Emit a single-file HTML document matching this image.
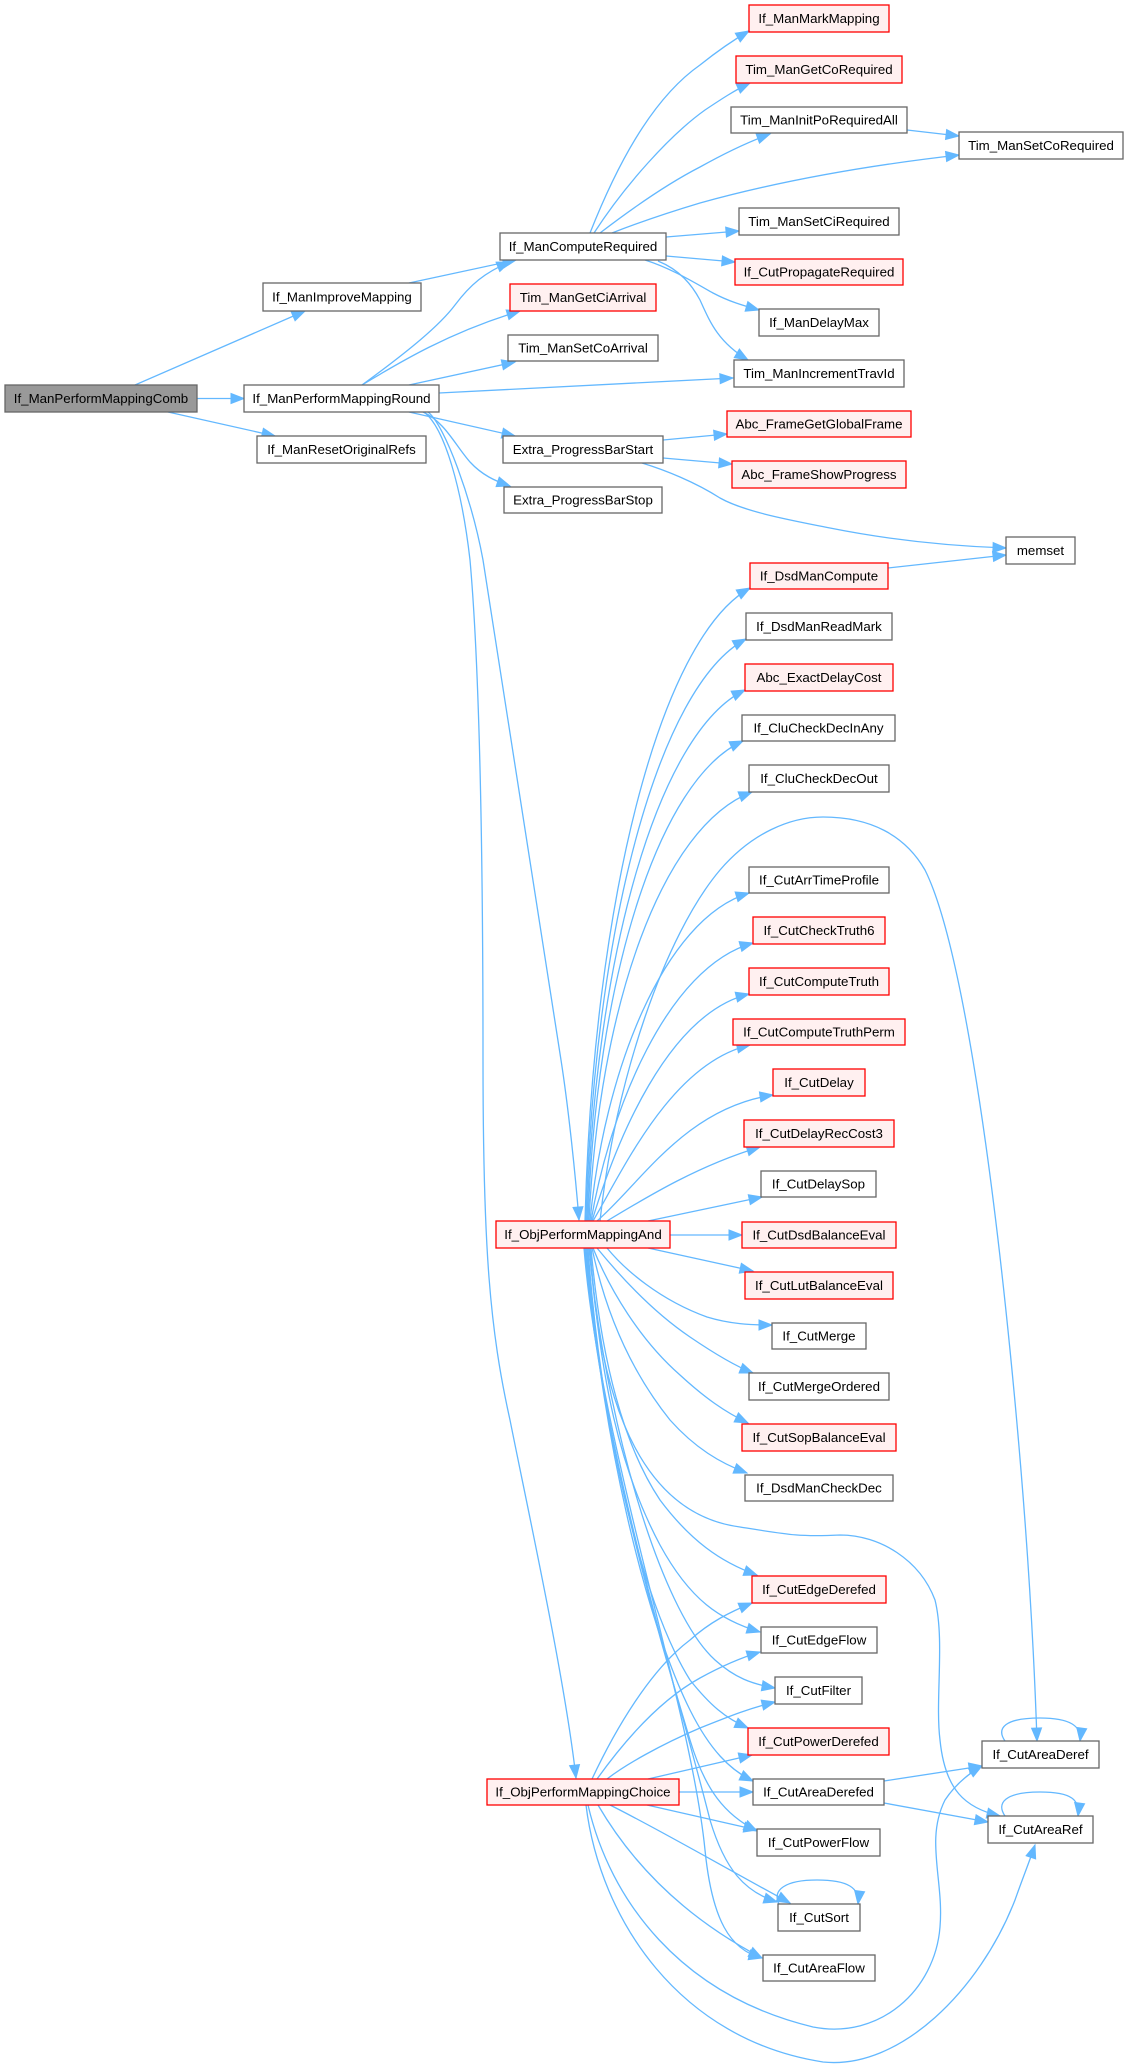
<!DOCTYPE html>
<html><head><meta charset="utf-8"><style>
html,body{margin:0;padding:0;background:#fff;}
svg{display:block;}
text{font-family:"Liberation Sans",Arial,sans-serif;font-size:13.3px;fill:#000;text-anchor:middle;}
.e{fill:none;stroke:#63b8ff;stroke-width:1.3;marker-end:url(#a);}
.n{fill:#fff;stroke:#666;stroke-width:1.3;}
.r{fill:#fff0f0;stroke:#f00;stroke-width:1.3;}
.g{fill:#999;stroke:#666;stroke-width:1.3;}
</style></head><body>
<svg width="1128" height="2067" viewBox="0 0 1128 2067" xmlns="http://www.w3.org/2000/svg">
<defs><marker id="a" markerUnits="userSpaceOnUse" markerWidth="14" markerHeight="11" refX="13" refY="5" orient="auto" overflow="visible"><path d="M0,0 L13,5 L0,10 z" fill="#63b8ff" stroke="#63b8ff" stroke-width="1"/></marker></defs>
<g>
<path class="e" d="M135,385 L305,311"/>
<path class="e" d="M197,398.5 L244,398.5"/>
<path class="e" d="M168,412 L275,436"/>
<path class="e" d="M409,283 L516,260"/>
<path class="e" d="M362,385 C410,350 440,325 455,305 C470,285 485,272 510,262"/>
<path class="e" d="M362,385 C400,362 450,332 520,311"/>
<path class="e" d="M409,385 L515,362"/>
<path class="e" d="M439,393 L733,378"/>
<path class="e" d="M409,412 L515,436"/>
<path class="e" d="M423,412 C445,422 455,445 470,462 C482,475 495,481 510,486"/>
<path class="e" d="M428,412 C445,425 472,500 483,560 L561,1060 C568,1105 575,1170 579,1220"/>
<path class="e" d="M424,412 C445,428 462,490 470,560 C478,650 483,800 483,1060 C483,1250 490,1330 510,1420 C530,1520 565,1680 576,1778"/>
<path class="e" d="M590,233 C615,170 650,100 700,65 C715,53 730,42 749,31"/>
<path class="e" d="M594,233 C625,185 670,135 705,110 C720,100 735,90 750,83"/>
<path class="e" d="M600,233 C630,210 665,185 700,167 C725,153 748,142 770,134"/>
<path class="e" d="M612,233 C640,222 670,212 700,203 C790,178 880,164 959,155"/>
<path class="e" d="M666,237 L739,231"/>
<path class="e" d="M666,256 L735,262"/>
<path class="e" d="M645,260 C670,268 690,280 713,293 C730,302 745,306 759,310"/>
<path class="e" d="M658,261 C680,270 692,285 700,300 C710,322 718,342 748,360"/>
<path class="e" d="M907,130 L959,136"/>
<path class="e" d="M663,440 L727,434"/>
<path class="e" d="M663,458 L732,464"/>
<path class="e" d="M642,463 C665,470 695,482 720,498 C745,512 790,520 830,528 C890,540 950,546 1006,548"/>
<path class="e" d="M888,568 L1006,555"/>
<path class="e" d="M585,1221 C593,905 659,639 750,588"/>
<path class="e" d="M586,1221 C594,930 658,686 746,639"/>
<path class="e" d="M587,1221 C595,956 658,732 745,690"/>
<path class="e" d="M588,1221 C596,981 658,779 743,741"/>
<path class="e" d="M589,1221 C599,1006 662,826 752,792"/>
<path class="e" d="M590,1221 C604,1073 663,919 749,893"/>
<path class="e" d="M591,1221 C610,1110 667,967 753,943"/>
<path class="e" d="M592,1221 C616,1142 667,1014 749,994"/>
<path class="e" d="M593,1221 C624,1168 672,1063 750,1045"/>
<path class="e" d="M597,1221 C641,1183 685,1108 773,1095"/>
<path class="e" d="M607,1221 C650,1195 700,1165 760,1147"/>
<path class="e" d="M648,1221 L762,1197"/>
<path class="e" d="M670,1235 L742,1235"/>
<path class="e" d="M600,1221 C615,1080 665,935 720,870 C752,833 790,817 823,817 C870,817 905,835 925,870 C960,940 990,1150 1010,1350 C1025,1500 1033,1620 1037,1741"/>
<path class="e" d="M648,1248 L753,1271"/>
<path class="e" d="M607,1248 C625,1270 660,1300 707,1317 C730,1324 750,1325 772,1325"/>
<path class="e" d="M597,1248 C615,1270 650,1310 690,1337 C715,1354 735,1366 753,1373"/>
<path class="e" d="M593,1248 C610,1290 640,1340 680,1375 C705,1398 725,1412 748,1423"/>
<path class="e" d="M592,1248 C605,1310 630,1370 670,1420 C695,1448 720,1463 747,1473"/>
<path class="e" d="M590,1248 C600,1420 650,1515 740,1527 C790,1535 800,1537 840,1535 C880,1535 920,1560 935,1600 C945,1640 935,1700 940,1740 C945,1790 965,1808 1000,1816"/>
<path class="e" d="M591,1248 C600,1350 620,1440 660,1500 C690,1540 720,1562 757,1575"/>
<path class="e" d="M590,1248 C600,1380 620,1470 660,1545 C690,1600 720,1620 760,1632"/>
<path class="e" d="M589,1248 C605,1420 660,1610 715,1660 C735,1678 752,1684 775,1688"/>
<path class="e" d="M588,1248 C600,1420 640,1600 690,1680 C710,1705 725,1718 748,1728"/>
<path class="e" d="M587,1248 C600,1430 645,1620 690,1710 C710,1750 730,1770 753,1781"/>
<path class="e" d="M586,1248 C600,1440 660,1640 690,1740 C705,1790 725,1815 757,1831"/>
<path class="e" d="M585,1248 C600,1450 675,1680 710,1820 C725,1870 745,1892 777,1902"/>
<path class="e" d="M584,1248 C600,1450 690,1700 705,1850 C712,1920 730,1950 762,1958"/>
<path class="e" d="M592,1779 C615,1730 650,1670 690,1640 C710,1622 730,1612 752,1603"/>
<path class="e" d="M597,1779 C625,1740 660,1700 700,1678 C720,1667 740,1658 760,1652"/>
<path class="e" d="M607,1779 C625,1765 660,1745 700,1728 C730,1716 750,1708 775,1702"/>
<path class="e" d="M648,1779 L752,1755"/>
<path class="e" d="M679,1792 L753,1792"/>
<path class="e" d="M647,1805 L757,1830"/>
<path class="e" d="M610,1805 C660,1830 720,1865 790,1903"/>
<path class="e" d="M598,1805 C630,1860 680,1915 762,1958"/>
<path class="e" d="M588,1805 C610,1900 680,1995 813,2027 C880,2040 935,1990 940,1927 C944,1880 925,1840 945,1800 C955,1785 968,1774 982,1766"/>
<path class="e" d="M586,1805 C600,1920 680,2040 823,2062 C900,2070 980,1990 1015,1900 C1022,1880 1030,1860 1035,1845"/>
<path class="e" d="M884,1781 L982,1766"/>
<path class="e" d="M884,1803 L988,1822"/>
<path class="e" d="M1005,1741 C996,1728 1005,1718 1040,1718 C1070,1718 1082,1726 1080,1741"/>
<path class="e" d="M1005,1816 C996,1803 1005,1792 1040,1792 C1072,1792 1080,1800 1078,1816"/>
<path class="e" d="M779,1904 C772,1890 785,1880 817,1880 C848,1880 860,1888 858,1904"/>
</g>
<g>
<rect class="g" x="5" y="385" width="192" height="27"/><text x="101" y="403.1">If_ManPerformMappingComb</text>
<rect class="n" x="263" y="283" width="158" height="28"/><text x="342" y="301.6">If_ManImproveMapping</text>
<rect class="n" x="244" y="385" width="195" height="27"/><text x="341.5" y="403.1">If_ManPerformMappingRound</text>
<rect class="n" x="257" y="436" width="169" height="27"/><text x="341.5" y="454.1">If_ManResetOriginalRefs</text>
<rect class="n" x="500" y="233" width="166" height="27"/><text x="583" y="251.1">If_ManComputeRequired</text>
<rect class="r" x="510" y="284" width="146" height="27"/><text x="583" y="302.1">Tim_ManGetCiArrival</text>
<rect class="n" x="508" y="335" width="150" height="26"/><text x="583" y="352.6">Tim_ManSetCoArrival</text>
<rect class="n" x="503" y="436" width="160" height="27"/><text x="583" y="454.1">Extra_ProgressBarStart</text>
<rect class="n" x="504" y="487" width="158" height="26"/><text x="583" y="504.6">Extra_ProgressBarStop</text>
<rect class="r" x="749" y="5" width="140" height="27"/><text x="819" y="23.1">If_ManMarkMapping</text>
<rect class="r" x="736" y="56" width="166" height="27"/><text x="819" y="74.1">Tim_ManGetCoRequired</text>
<rect class="n" x="731" y="107" width="176" height="26"/><text x="819" y="124.6">Tim_ManInitPoRequiredAll</text>
<rect class="n" x="959" y="132" width="164" height="27"/><text x="1041" y="150.1">Tim_ManSetCoRequired</text>
<rect class="n" x="739" y="208" width="160" height="27"/><text x="819" y="226.1">Tim_ManSetCiRequired</text>
<rect class="r" x="735" y="259" width="168" height="26"/><text x="819" y="276.6">If_CutPropagateRequired</text>
<rect class="n" x="759" y="309" width="120" height="27"/><text x="819" y="327.1">If_ManDelayMax</text>
<rect class="n" x="734" y="360" width="170" height="27"/><text x="819" y="378.1">Tim_ManIncrementTravId</text>
<rect class="r" x="727" y="411" width="184" height="26"/><text x="819" y="428.6">Abc_FrameGetGlobalFrame</text>
<rect class="r" x="732" y="461" width="174" height="27"/><text x="819" y="479.1">Abc_FrameShowProgress</text>
<rect class="n" x="1006" y="537" width="69" height="27"/><text x="1040.5" y="555.1">memset</text>
<rect class="r" x="750" y="563" width="138" height="26"/><text x="819" y="580.6">If_DsdManCompute</text>
<rect class="n" x="746" y="613" width="146" height="27"/><text x="819" y="631.1">If_DsdManReadMark</text>
<rect class="r" x="745" y="664" width="148" height="27"/><text x="819" y="682.1">Abc_ExactDelayCost</text>
<rect class="n" x="742" y="715" width="153" height="26"/><text x="818.5" y="732.6">If_CluCheckDecInAny</text>
<rect class="n" x="749" y="765" width="140" height="27"/><text x="819" y="783.1">If_CluCheckDecOut</text>
<rect class="n" x="749" y="867" width="140" height="26"/><text x="819" y="884.6">If_CutArrTimeProfile</text>
<rect class="r" x="753" y="917" width="132" height="27"/><text x="819" y="935.1">If_CutCheckTruth6</text>
<rect class="r" x="749" y="968" width="140" height="27"/><text x="819" y="986.1">If_CutComputeTruth</text>
<rect class="r" x="733" y="1019" width="172" height="26"/><text x="819" y="1036.6">If_CutComputeTruthPerm</text>
<rect class="r" x="773" y="1069" width="92" height="27"/><text x="819" y="1087.1">If_CutDelay</text>
<rect class="r" x="744" y="1120" width="150" height="27"/><text x="819" y="1138.1">If_CutDelayRecCost3</text>
<rect class="n" x="761" y="1171" width="115" height="26"/><text x="818.5" y="1188.6">If_CutDelaySop</text>
<rect class="r" x="742" y="1222" width="154" height="26"/><text x="819" y="1239.6">If_CutDsdBalanceEval</text>
<rect class="r" x="745" y="1272" width="148" height="27"/><text x="819" y="1290.1">If_CutLutBalanceEval</text>
<rect class="n" x="772" y="1323" width="94" height="26"/><text x="819" y="1340.6">If_CutMerge</text>
<rect class="n" x="749" y="1373" width="140" height="27"/><text x="819" y="1391.1">If_CutMergeOrdered</text>
<rect class="r" x="742" y="1424" width="154" height="27"/><text x="819" y="1442.1">If_CutSopBalanceEval</text>
<rect class="n" x="745" y="1475" width="148" height="26"/><text x="819" y="1492.6">If_DsdManCheckDec</text>
<rect class="r" x="752" y="1576" width="134" height="27"/><text x="819" y="1594.1">If_CutEdgeDerefed</text>
<rect class="n" x="761" y="1627" width="116" height="26"/><text x="819" y="1644.6">If_CutEdgeFlow</text>
<rect class="n" x="775" y="1677" width="87" height="27"/><text x="818.5" y="1695.1">If_CutFilter</text>
<rect class="r" x="748" y="1728" width="141" height="27"/><text x="818.5" y="1746.1">If_CutPowerDerefed</text>
<rect class="n" x="753" y="1779" width="131" height="26"/><text x="818.5" y="1796.6">If_CutAreaDerefed</text>
<rect class="n" x="757" y="1829" width="123" height="27"/><text x="818.5" y="1847.1">If_CutPowerFlow</text>
<rect class="n" x="778" y="1904" width="82" height="27"/><text x="819" y="1922.1">If_CutSort</text>
<rect class="n" x="763" y="1955" width="112" height="26"/><text x="819" y="1972.6">If_CutAreaFlow</text>
<rect class="r" x="496" y="1221" width="174" height="27"/><text x="583" y="1239.1">If_ObjPerformMappingAnd</text>
<rect class="r" x="487" y="1779" width="192" height="26"/><text x="583" y="1796.6">If_ObjPerformMappingChoice</text>
<rect class="n" x="982" y="1741" width="117" height="27"/><text x="1040.5" y="1759.1">If_CutAreaDeref</text>
<rect class="n" x="988" y="1816" width="105" height="27"/><text x="1040.5" y="1834.1">If_CutAreaRef</text>
</g>
</svg>
</body></html>
